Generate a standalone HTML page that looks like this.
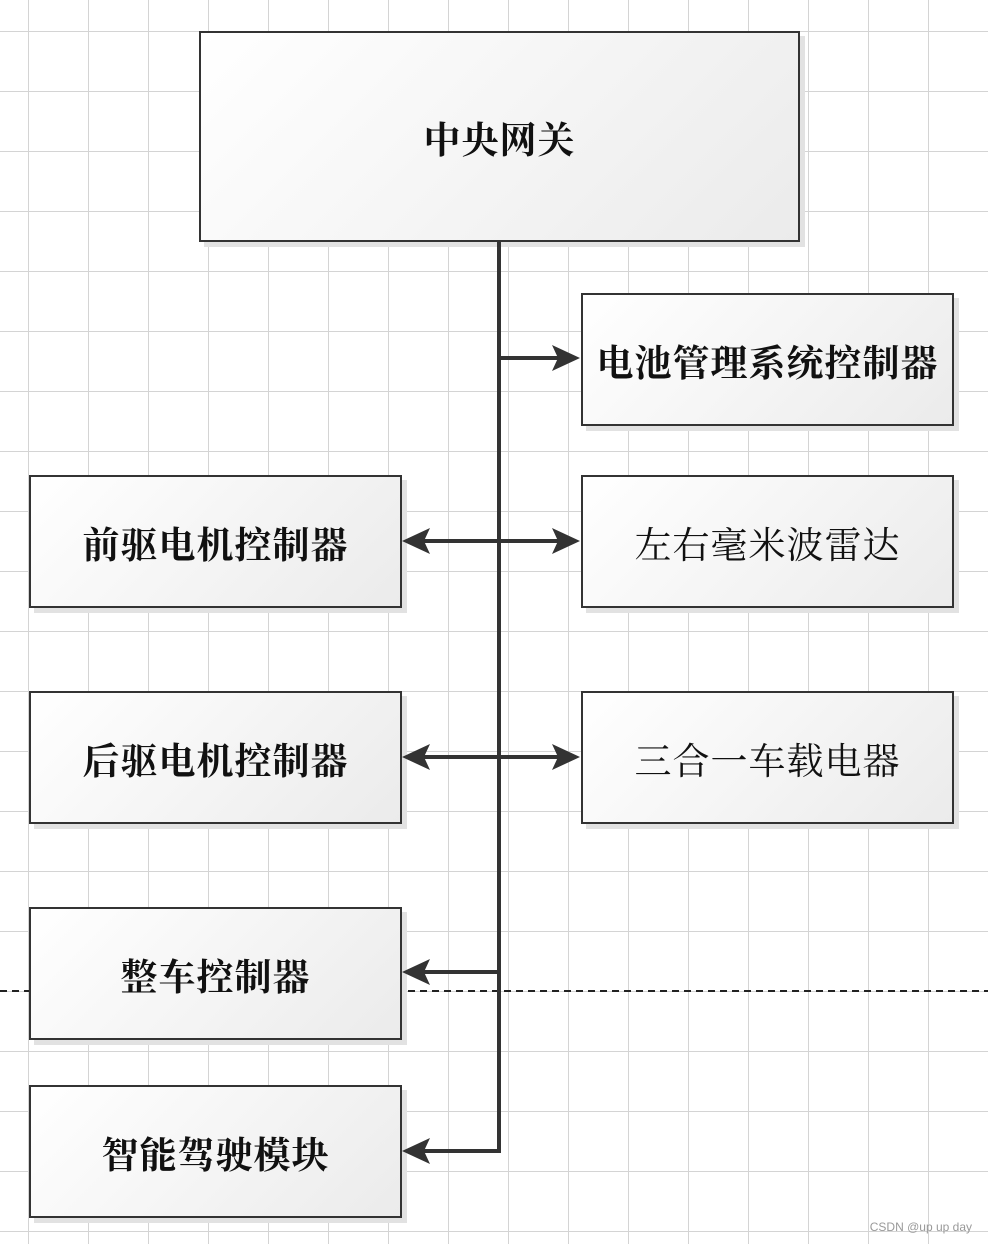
<!DOCTYPE html>
<html><head><meta charset="utf-8"><style>
html,body{margin:0;padding:0}
body{width:988px;height:1244px;position:relative;overflow:hidden;background-color:#fff;
background-image:linear-gradient(#d4d4d4 1px,transparent 1px),linear-gradient(90deg,#d4d4d4 1px,transparent 1px);
background-size:60px 60px;background-position:0 31px,28px 0;}
.b{position:absolute;box-sizing:border-box;border:2px solid #333;background:linear-gradient(135deg,#fff,#ebebeb);
box-shadow:5px 5px 0 #e2e2e2;display:flex;align-items:center;justify-content:center;
font-family:"Liberation Serif","Noto Serif CJK SC",serif;font-weight:bold;font-size:37px;color:#111;letter-spacing:1px}
svg{position:absolute;left:0;top:0}
.wm{position:absolute;right:16px;bottom:10px;font:12px "Liberation Sans",sans-serif;color:#999}
</style></head><body>
<svg width="988" height="1244">
<line x1="0" y1="991" x2="988" y2="991" stroke="#222" stroke-width="2" stroke-dasharray="7,5"/>
</svg>
<div class="b" style="left:199px;top:31px;width:601px;height:211px">中央网关</div>
<div class="b" style="left:581px;top:293px;width:373px;height:133px">电池管理系统控制器</div>
<div class="b" style="left:581px;top:475px;width:373px;height:133px;font-weight:normal">左右毫米波雷达</div>
<div class="b" style="left:581px;top:691px;width:373px;height:133px;font-weight:normal">三合一车载电器</div>
<div class="b" style="left:29px;top:475px;width:373px;height:133px">前驱电机控制器</div>
<div class="b" style="left:29px;top:691px;width:373px;height:133px">后驱电机控制器</div>
<div class="b" style="left:29px;top:907px;width:373px;height:133px">整车控制器</div>
<div class="b" style="left:29px;top:1085px;width:373px;height:133px">智能驾驶模块</div>
<svg width="988" height="1244">
<g stroke="#333" stroke-width="4" fill="none">
<line x1="499" y1="241" x2="499" y2="1153"/>
<line x1="499" y1="358" x2="565" y2="358"/>
<line x1="418" y1="541" x2="565" y2="541"/>
<line x1="418" y1="757" x2="565" y2="757"/>
<line x1="418" y1="972" x2="501" y2="972"/>
<line x1="418" y1="1151" x2="501" y2="1151"/>
</g>
<g fill="#333">
<polygon points="580,358 552,345 558,358 552,371"/>
<polygon points="580,541 552,528 558,541 552,554"/>
<polygon points="580,757 552,744 558,757 552,770"/>
<polygon points="402,541 430,528 424,541 430,554"/>
<polygon points="402,757 430,744 424,757 430,770"/>
<polygon points="402,972 430,959 424,972 430,985"/>
<polygon points="402,1151 430,1138 424,1151 430,1164"/>
</g>
</svg>
<div class="wm">CSDN @up up day</div>
</body></html>
